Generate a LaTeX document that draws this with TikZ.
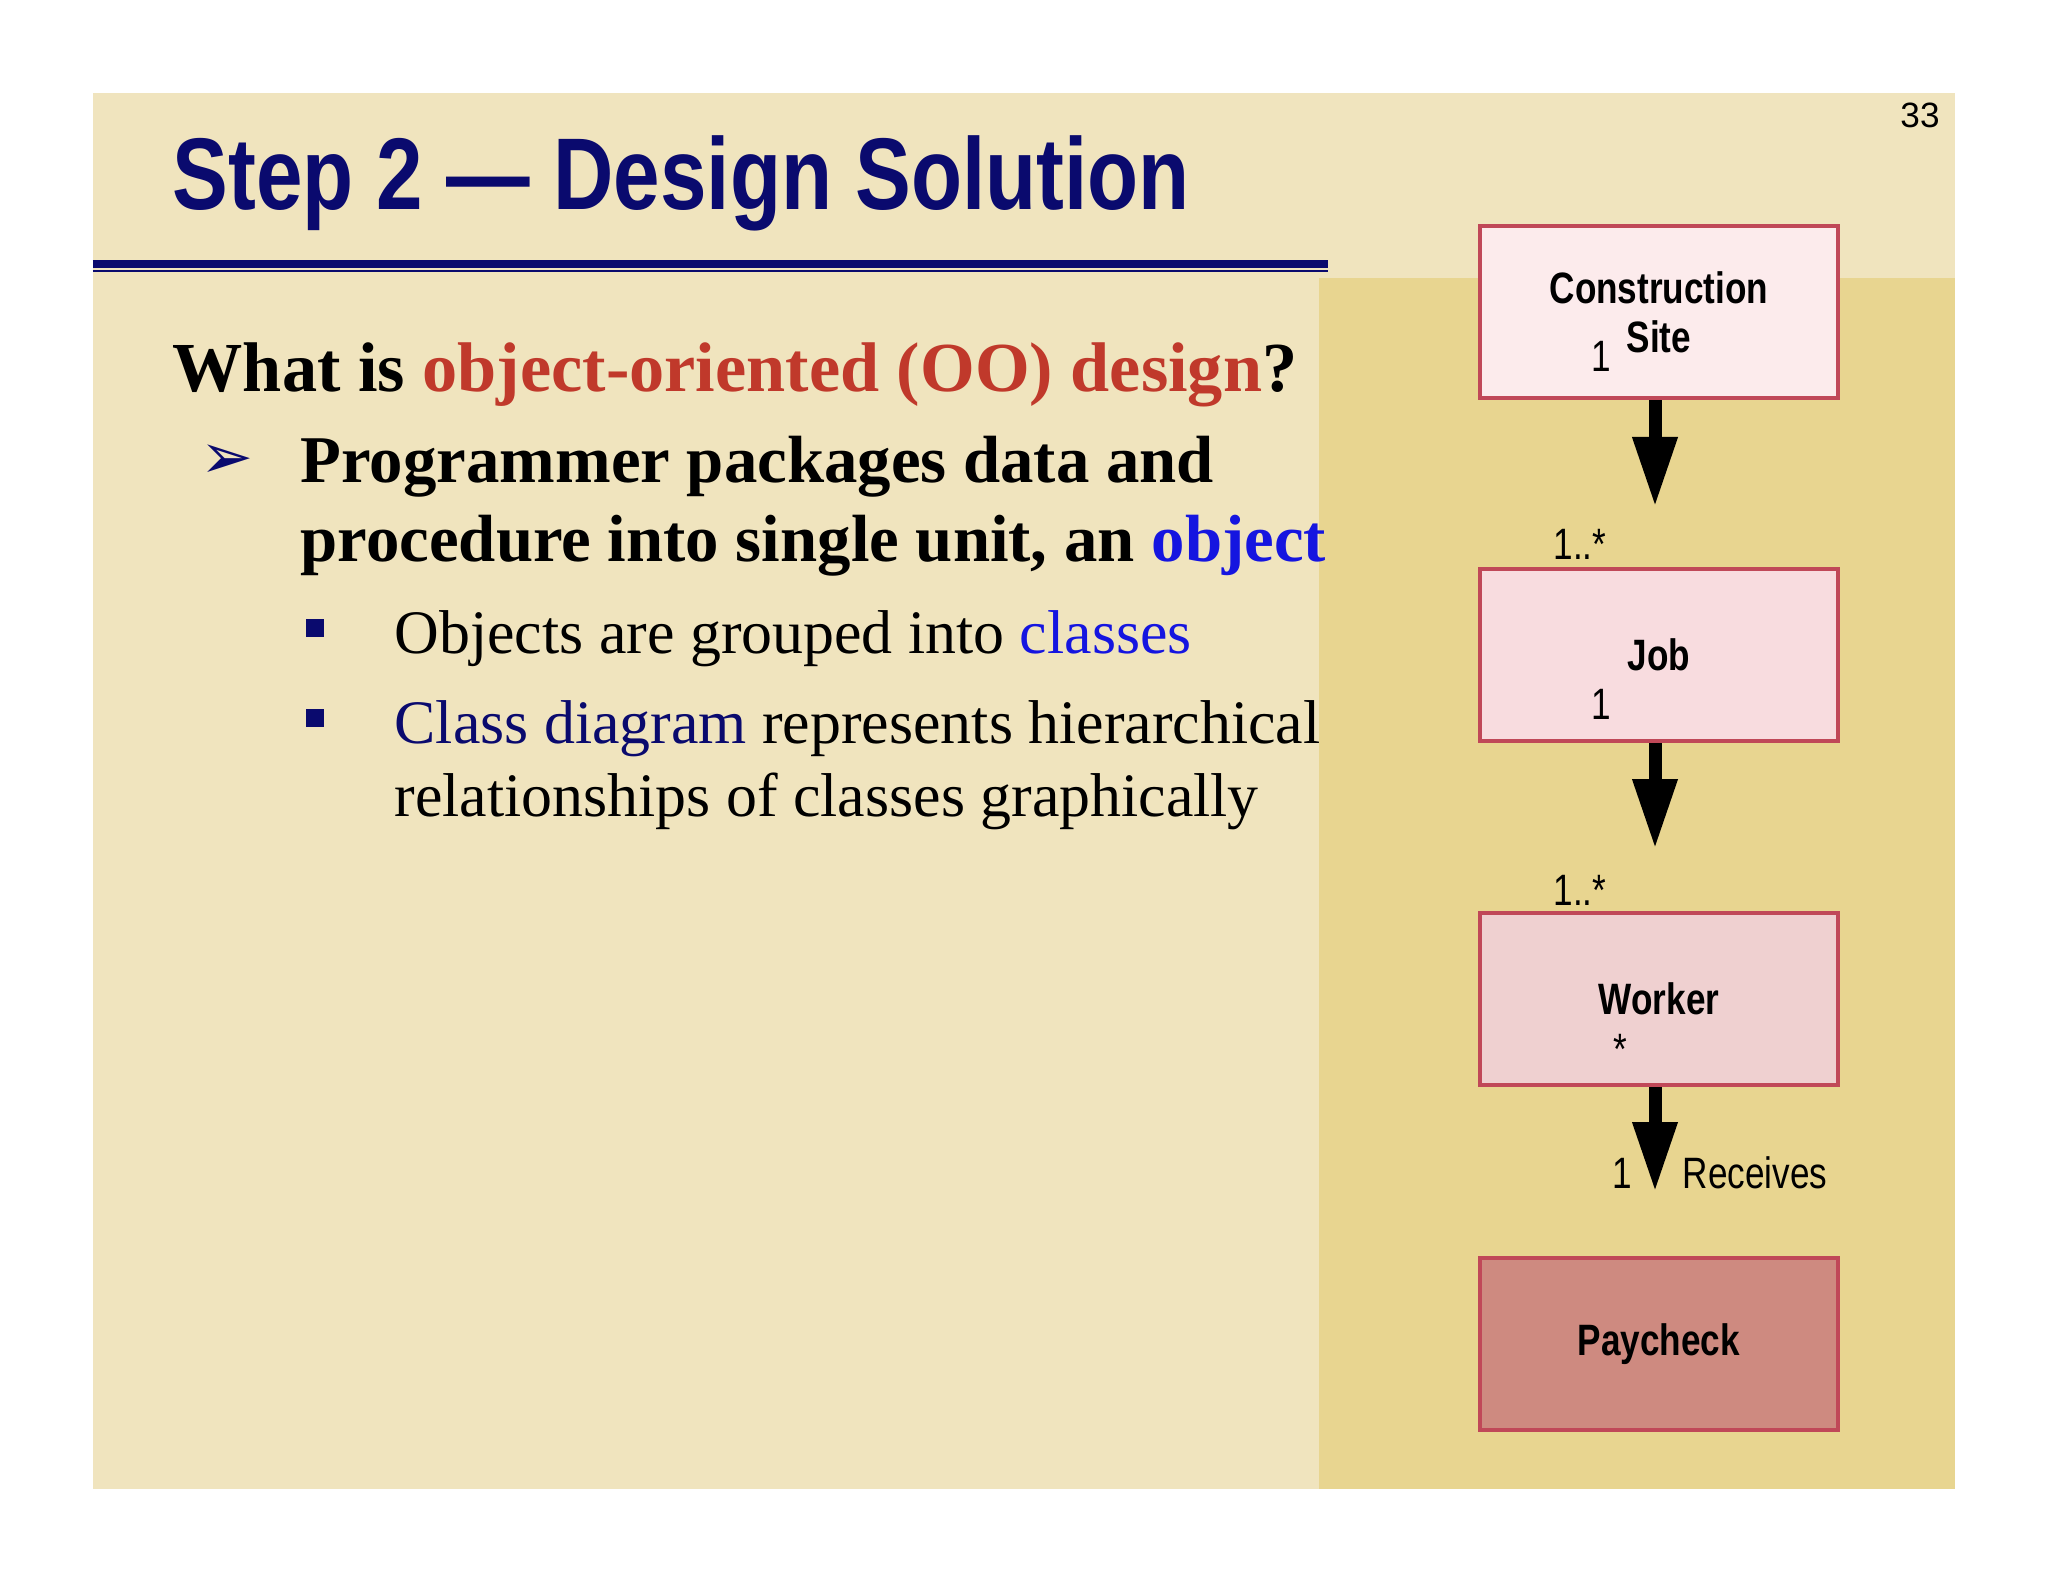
\documentclass[tikz,border=0pt]{standalone}
\usepackage{fontspec}
\setmainfont{Liberation Serif}
\newfontfamily\titlefont[FakeStretch=0.82]{Liberation Sans}
\newfontfamily\boxfont[FakeStretch=0.8]{Liberation Sans}
\newfontfamily\labfont{Liberation Sans}
\newfontfamily\symfont{DejaVu Sans}
\usetikzlibrary{arrows.meta,positioning}
\definecolor{slidebg}{HTML}{F0E4BE}
\definecolor{panelbg}{HTML}{E8D590}
\definecolor{navy}{HTML}{0A0A6E}
\definecolor{ooRed}{HTML}{C0392B}
\definecolor{ooBlue}{HTML}{1515E0}
\definecolor{boxline}{HTML}{C04858}
\definecolor{siteFill}{HTML}{FCEBEC}
\definecolor{jobFill}{HTML}{F8DCDF}
\definecolor{workerFill}{HTML}{EFD0D0}
\definecolor{payFill}{HTML}{CE8A80}
\tikzset{
  classbox/.style={draw=boxline, line width=1.2pt, minimum width=3.58cm, minimum height=1.72cm, inner sep=0pt, font=\boxfont\bfseries\fontsize{12.5}{15}\selectfont, align=center},
  assoc/.style={line width=0.13cm, -{Triangle[length=0.7cm,width=0.42cm]}},
  mult/.style={font=\boxfont\fontsize{12.5}{15}\selectfont, anchor=base, inner sep=0pt},
  txt/.style={anchor=base west, inner sep=0pt}
}
\begin{document}
\begin{tikzpicture}[x=1cm,y=1cm]
\useasboundingbox (0,0) rectangle (20.48,-15.82);
\fill[white] (0,0) rectangle (20.48,-15.82);
\fill[slidebg] (0.93,-0.93) rectangle (19.55,-14.89);
\fill[panelbg] (13.19,-2.78) rectangle (19.55,-14.89);
% title and rule
\node[txt, text=navy, font=\titlefont\bfseries\fontsize{29}{32}\selectfont] (title) at (1.72,-2.1) {Step 2 — Design Solution};
\draw[navy, line width=2.4pt] (0.93,-2.64) -- (13.28,-2.64);
\draw[navy, line width=0.6pt] (0.93,-2.71) -- (13.28,-2.71);
\node[font=\labfont\fontsize{10}{12}\selectfont, anchor=base] (page) at (19.2,-1.28) {33};
% body text
\node[txt, font=\bfseries\fontsize{20}{24}\selectfont] (q) at (1.72,-3.92) {What is \textcolor{ooRed}{object-oriented (OO) design}?};
\node[txt, text=navy, font=\symfont\fontsize{18}{22}\selectfont] (arr) at (2.0,-4.79) {➢};
\node[txt, font=\bfseries\fontsize{19}{23}\selectfont] (p1) at (3.0,-4.83) {Programmer packages data and};
\node[txt, font=\bfseries\fontsize{19}{23}\selectfont] (p2) at (3.0,-5.62) {procedure into single unit, an \textcolor{ooBlue}{object}};
\fill[navy] (3.06,-6.19) rectangle (3.24,-6.37);
\fill[navy] (3.06,-7.09) rectangle (3.24,-7.27);
\node[txt, font=\fontsize{17.6}{21}\selectfont] (s1) at (3.94,-6.53) {Objects are grouped into \textcolor{ooBlue}{classes}};
\node[txt, font=\fontsize{17.6}{21}\selectfont] (s2) at (3.94,-7.44) {\textcolor{navy}{Class diagram} represents hierarchical};
\node[txt, font=\fontsize{17.6}{21}\selectfont] (s3) at (3.94,-8.16) {relationships of classes graphically};
% class diagram
\node[classbox, fill=siteFill] (site) at (16.59,-3.12) {Construction\\[-1pt]Site};
\node[classbox, fill=jobFill] (job) at (16.59,-6.55) {Job};
\node[classbox, fill=workerFill] (worker) at (16.59,-9.99) {Worker};
\node[classbox, fill=payFill] (pay) at (16.59,-13.44) {Paycheck};
\coordinate (tipA) at (16.55,-5.07);
\coordinate (tipB) at (16.55,-8.49);
\coordinate (tipC) at (16.55,-11.92);
\draw[assoc] (site.south -| tipA) -- (tipA);
\draw[assoc] (job.south -| tipB) -- (tipB);
\draw[assoc] (worker.south -| tipC) -- (tipC);
\node[mult] (m1) at (16.01,-3.72) {1};
\node[mult] (m2) at (15.8,-5.6) {1..*};
\node[mult] (m3) at (16.01,-7.2) {1};
\node[mult] (m4) at (15.8,-9.05) {1..*};
\node[mult] (m5) at (16.2,-10.65) {*};
\node[mult] (m6) at (16.22,-11.88) {1};
\node[mult, anchor=base west] (recv) at (16.82,-11.88) {Receives};
\end{tikzpicture}
\end{document}
